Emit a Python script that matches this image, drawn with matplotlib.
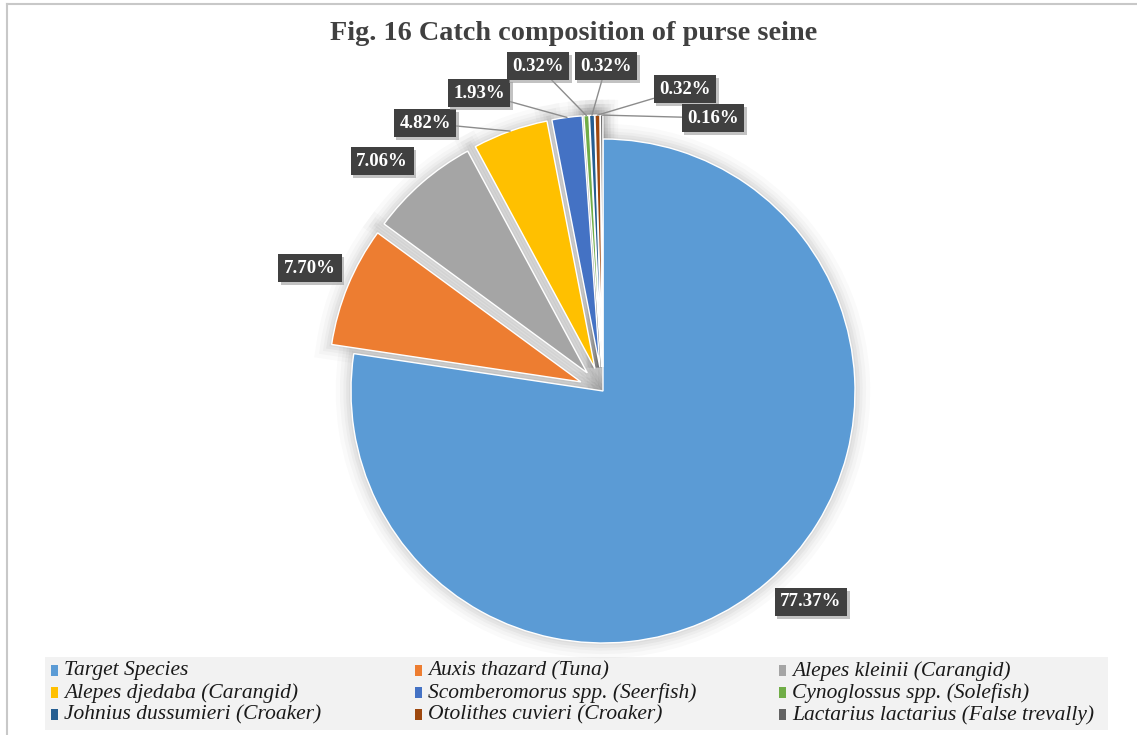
import matplotlib
matplotlib.use("Agg")
import numpy as np
import matplotlib.pyplot as plt
import matplotlib.patheffects as pe
from matplotlib.patches import Wedge, Rectangle

# Catch composition of purse seine (% of total catch)
categories = [
    "Target Species",
    "Auxis thazard (Tuna)",
    "Alepes kleinii (Carangid)",
    "Alepes djedaba (Carangid)",
    "Scomberomorus spp. (Seerfish)",
    "Cynoglossus spp. (Solefish)",
    "Johnius dussumieri (Croaker)",
    "Otolithes cuvieri (Croaker)",
    "Lactarius lactarius (False trevally)",
]
shares = [77.37, 7.70, 7.06, 4.82, 1.93, 0.32, 0.32, 0.32, 0.16]
colors = ["#5B9BD5", "#ED7D31", "#A5A5A5", "#FFC000", "#4472C4",
          "#70AD47", "#255E91", "#9E480E", "#636363"]

W, H = 1137, 735
fig = plt.figure(figsize=(W / 100, H / 100), dpi=100)
ax = fig.add_axes([0, 0, 1, 1])


def px(x, y):
    """Pixel position (origin top-left) -> data coordinates."""
    return x, H - y


cx, cy = px(603, 391)
R = 252
# every slice except the first is pulled out by a tenth of the radius
explode = [0.0] + [0.095 * R] * (len(shares) - 1)
wedges, _ = ax.pie(shares, colors=colors, explode=explode, startangle=90,
                   counterclock=False, center=(cx, cy), radius=R,
                   wedgeprops=dict(edgecolor="white", linewidth=1.0))
ax.set_xlim(0, W)
ax.set_ylim(0, H)
ax.set_aspect("equal")
ax.axis("off")

# soft glow beneath every slice
glow = [pe.Stroke(linewidth=lw, foreground="black", alpha=a)
        for lw, a in [(22, 0.018), (16, 0.022), (11, 0.028), (7, 0.035), (3, 0.03)]]
for w in wedges:
    g = Wedge(w.center, w.r, w.theta1, w.theta2, facecolor="none",
              edgecolor="black", linewidth=1, zorder=0.5)
    g.set_path_effects(glow)
    ax.add_patch(g)

# data labels: box centre (pixels) and whether a leader line is drawn
label_pos = [(811, 602), (310, 268), (382, 161), (425, 123), (479, 93),
             (538, 66), (606, 66), (685, 89), (713, 118)]
leader = [False, False, False, True, True, True, True, True, True]

for w, val, (lx, ly), has_line in zip(wedges, shares, label_pos, leader):
    mid = np.deg2rad((w.theta1 + w.theta2) / 2)
    ex = w.center[0] + w.r * np.cos(mid)
    ey = w.center[1] + w.r * np.sin(mid)
    kw = {}
    if has_line:
        kw["arrowprops"] = dict(arrowstyle="-", color="#8c8c8c", lw=1.0,
                                shrinkA=0, shrinkB=0)
    t = ax.annotate(f"{val:.2f}%", xy=(ex, ey), xytext=px(lx, ly),
                    ha="center", va="center", color="white",
                    fontsize=13.5, fontweight="bold", family="Liberation Serif",
                    bbox=dict(boxstyle="square,pad=0.3", fc="#404040", ec="none"),
                    zorder=5, **kw)
    t.get_bbox_patch().set_path_effects(
        [pe.SimplePatchShadow(offset=(2, -2), shadow_rgbFace="#9a9a9a", alpha=0.6),
         pe.Normal()])

# title
ax.text(*px(574, 33), "Fig. 16 Catch composition of purse seine",
        ha="center", va="center", fontsize=20.3, fontweight="bold",
        family="Liberation Serif", color="#404040")

# chart-area frame (top and left edges)
ax.plot([7, 7], [0, px(0, 4)[1]], color="#c8c8c8", lw=1.5)
ax.plot([7, W], [px(0, 4)[1]] * 2, color="#c8c8c8", lw=1.5)

# legend, filled row by row in three columns
x0, y0, x1, y1 = 45, 657, 1108, 730
ax.add_patch(Rectangle(px(x0, y1), x1 - x0, y1 - y0, facecolor="#f2f2f2",
                       edgecolor="none", zorder=0.2))
col_x = [51, 415, 779]
row_y = [671, 693, 715]
for i, (name, c) in enumerate(zip(categories, colors)):
    mx, my = col_x[i % 3], row_y[i // 3]
    ax.add_patch(Rectangle(px(mx, my + 5), 7, 11, facecolor=c, edgecolor="none",
                           zorder=3))
    ax.text(*px(mx + 13, my), name, ha="left", va="center", fontsize=15.5,
            style="italic", family="Liberation Serif", color="#1a1a1a", zorder=3)

fig.savefig("out.png", dpi=100, facecolor="white")
